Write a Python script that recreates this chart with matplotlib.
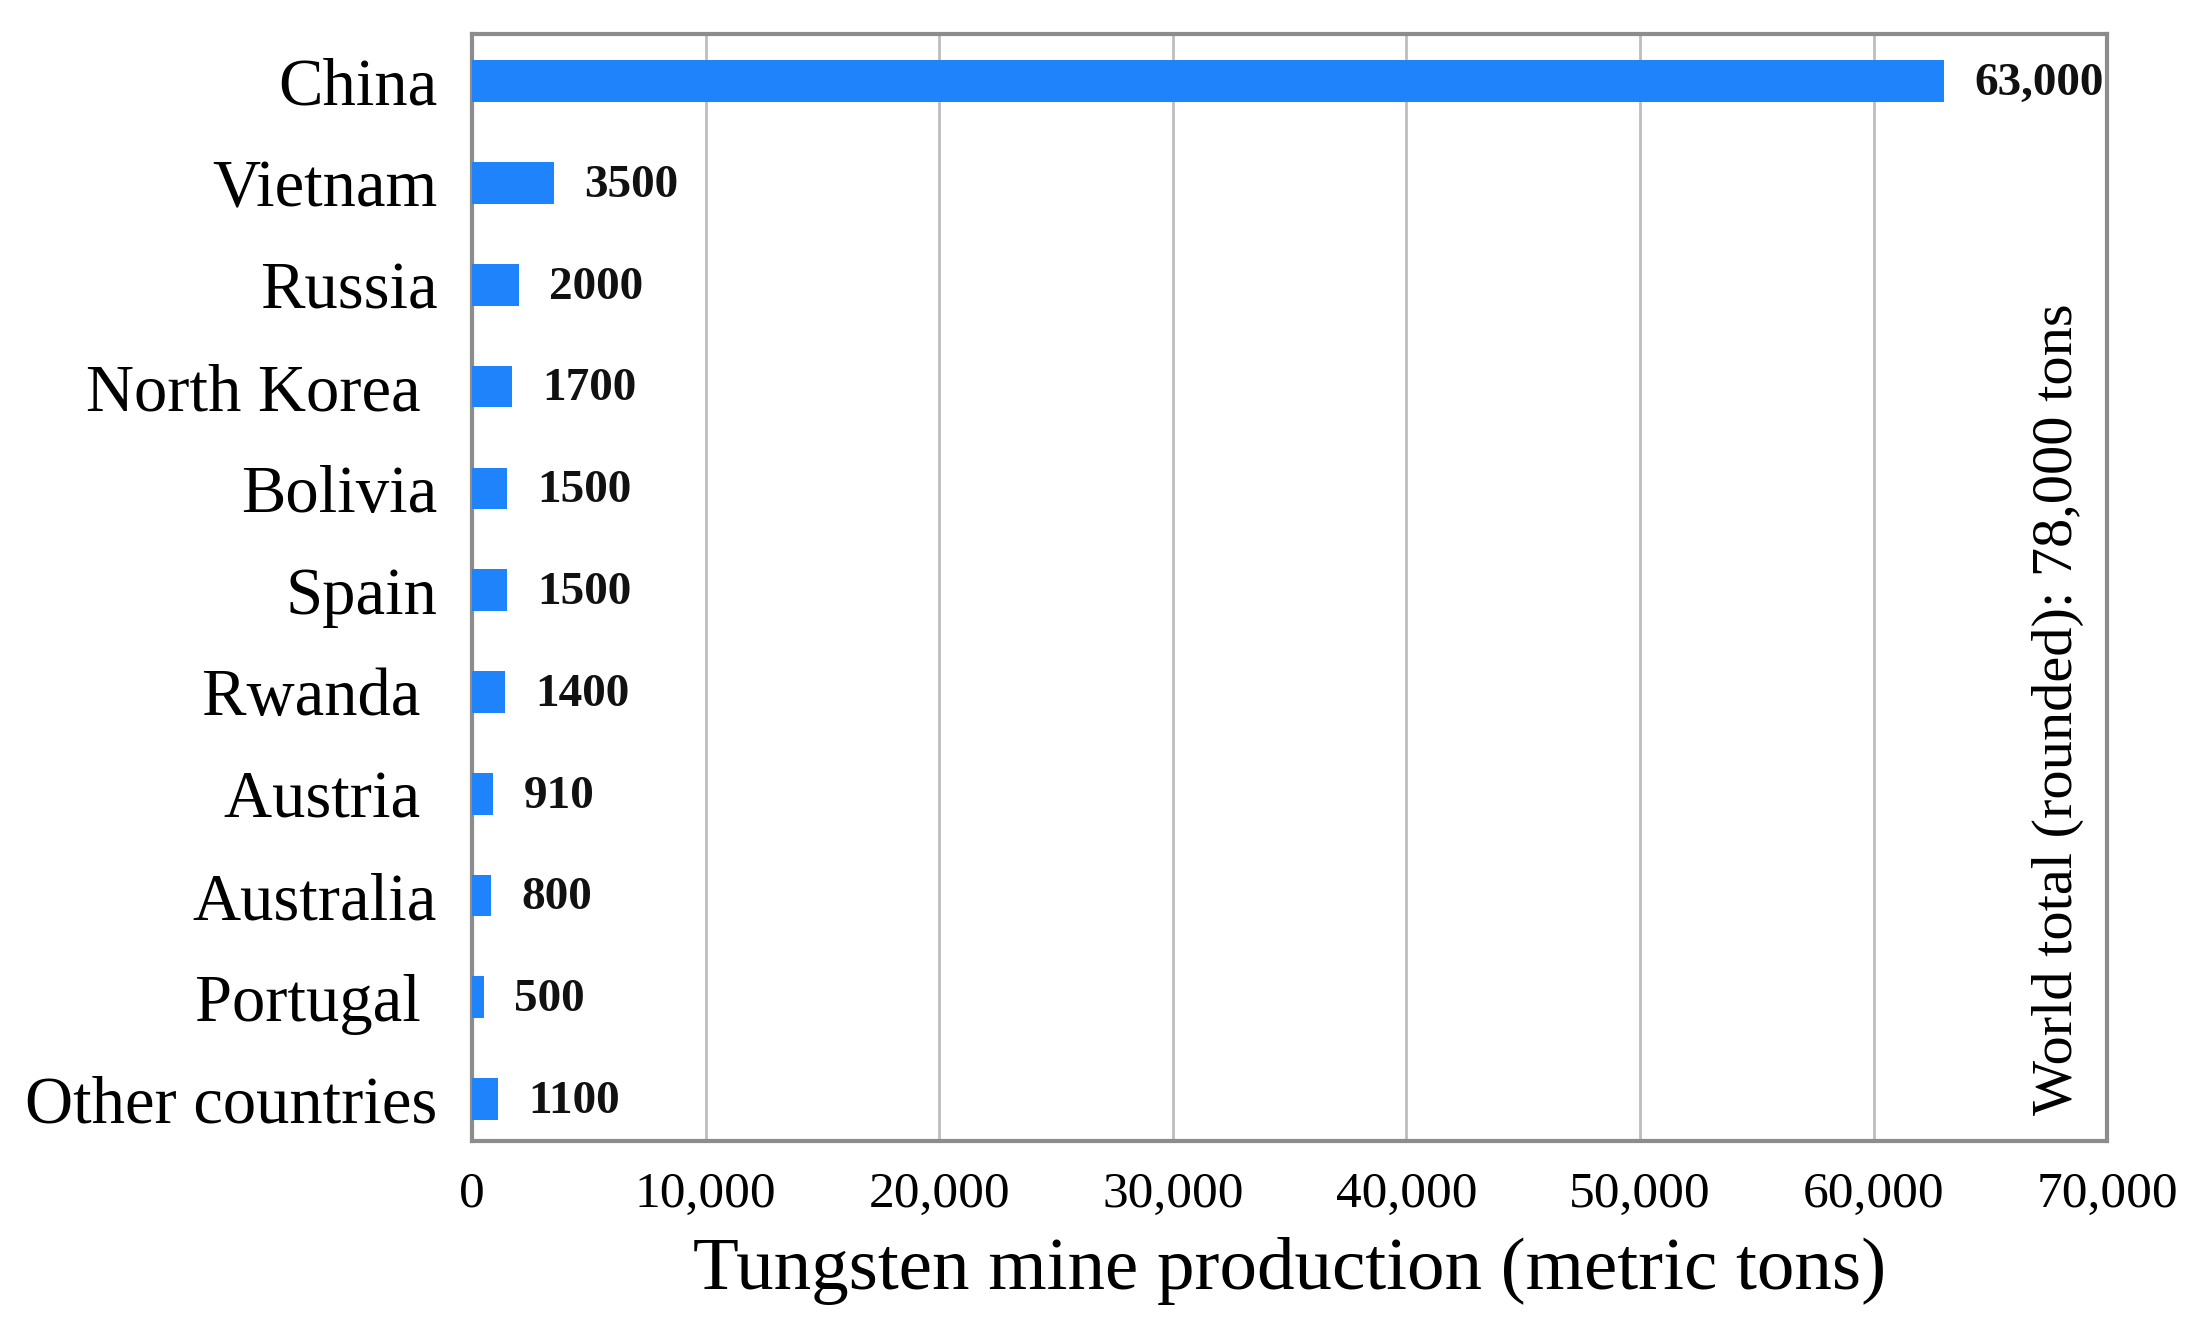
import matplotlib
matplotlib.use("Agg")
import matplotlib.pyplot as plt
import numpy as np

plt.rcParams['font.family'] = ['Liberation Serif', 'DejaVu Serif']

# data (top to bottom)
countries = ['China', 'Vietnam', 'Russia', 'North Korea ', 'Bolivia', 'Spain',
             'Rwanda ', 'Austria ', 'Australia', 'Portugal ', 'Other countries']
production = [63000, 3500, 2000, 1700, 1500, 1500, 1400, 910, 800, 500, 1100]
value_labels = ['63,000', '3500', '2000', '1700', '1500', '1500', '1400',
                '910', '800', '500', '1100']
xticks = np.arange(0, 70001, 10000)
xticklabels = ['0', '10,000', '20,000', '30,000', '40,000', '50,000',
               '60,000', '70,000']
total_note = 'World total (rounded): 78,000 tons'

bar_color = '#1f83fb'
spine_color = '#8c8c8c'
grid_color = '#bdbdbd'

fig = plt.figure(figsize=(21.95, 13.22), dpi=100)
ax = fig.add_axes([0.215, 0.137, 0.745, 0.837])

ypos = np.arange(len(countries))
ax.barh(ypos, production, height=0.41, color=bar_color, zorder=3)

# value labels to the right of each bar
for y, val, lab in zip(ypos, production, value_labels):
    ax.annotate(lab, (val, y), xytext=(22, -2), textcoords='offset points',
                ha='left', va='center', fontsize=34, fontweight='bold',
                color='#111111')

ax.set_xlim(0, 70000)
ax.set_ylim(10.41, -0.46)
ax.set_xticks(xticks)
ax.set_xticklabels(xticklabels, fontsize=37)
ax.set_yticks(ypos)
ax.set_yticklabels(countries, fontsize=48)
ax.tick_params(axis='both', length=0)
ax.tick_params(axis='y', pad=25)
ax.tick_params(axis='x', pad=22)

ax.xaxis.grid(True, color=grid_color, linewidth=2, zorder=0)
ax.set_axisbelow(True)
for sp in ax.spines.values():
    sp.set_color(spine_color)
    sp.set_linewidth(3)

ax.set_xlabel('Tungsten mine production (metric tons)', fontsize=54, labelpad=14)

ax.text(0.97, 0.39, total_note, transform=ax.transAxes, rotation=90,
        ha='center', va='center', fontsize=42)

fig.savefig('out.png', dpi=100)
